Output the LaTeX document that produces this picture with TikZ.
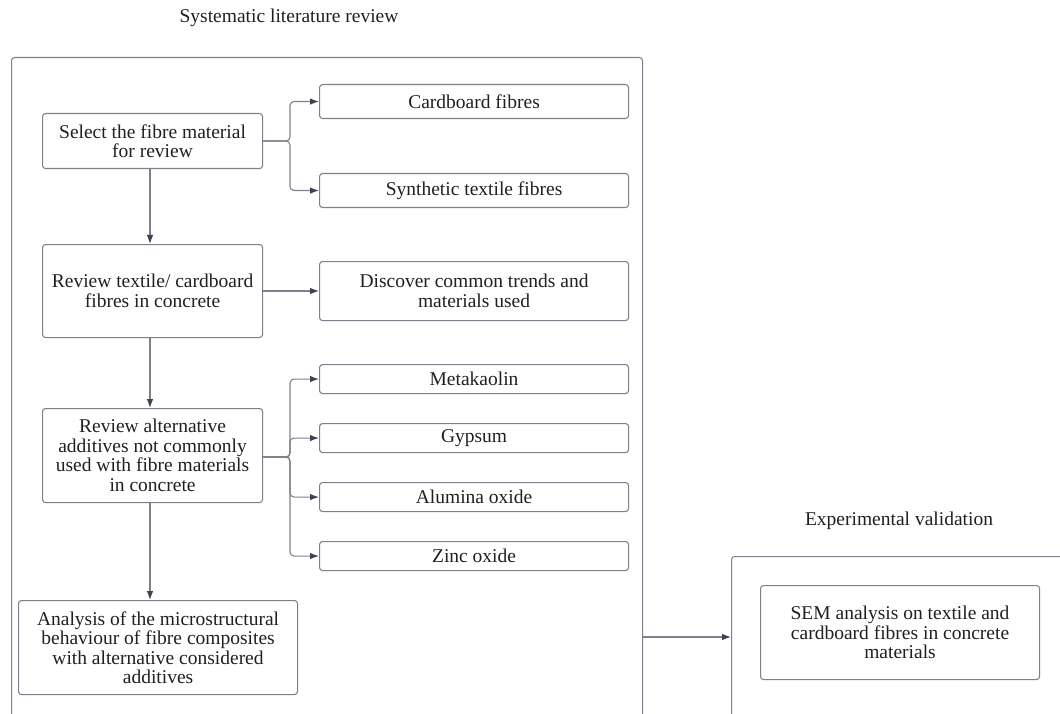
\documentclass[tikz,border=0pt]{standalone}
\usepackage{fontspec}
\setmainfont{Liberation Serif}
\usepackage{xcolor}
\usepackage{tikz}
\usetikzlibrary{positioning,arrows.meta}

\definecolor{edgegray}{HTML}{7D818B}
\definecolor{tipdark}{HTML}{3C4250}
\definecolor{inkdark}{HTML}{202020}

\begin{document}
\begin{tikzpicture}[x=1pt,y=-1pt,
  panel/.style={
   draw=edgegray,
   line width=1.1pt,
   rounded corners=3pt,
   anchor=north west
  },
  proc/.style={
    draw=edgegray,
    line width=1.1pt,
    rounded corners=3pt,
    anchor=north west,
    align=center,
    inner sep=0pt,
    text=inkdark,
    font=\fontsize{19.5}{19.5}\selectfont
  },
  heading/.style={
    text=inkdark,
    font=\fontsize{19.5}{19.5}\selectfont
  },
  arr/.style={
    draw=edgegray,
    line width=1.1pt,
    -{Latex[length=9pt,width=6.5pt,color=tipdark]}
  }]
  \clip (0,0) rectangle (1060,714);
  \useasboundingbox (0,0) rectangle (1060,714);

  \node[heading] (systitle) at (289,18) {Systematic literature review};
  \node[heading] (exptitle) at (899,521) {Experimental validation};

  \node[panel,minimum width=631pt,minimum height=700pt] (sysbox) at (11,57) {};
  \node[panel,minimum width=360pt,minimum height=200pt] (expbox) at (731,556) {};

  % main column
  \node[proc,minimum width=220pt,minimum height=55pt] (select) at (42,113)
    {Select the fibre material\\for review};
  \node[proc,minimum width=220pt,minimum height=93pt] (textile) at (42,244)
    {Review textile/ cardboard\\fibres in concrete};
  \node[proc,minimum width=220pt,minimum height=94pt] (altadd) at (42,408)
    {Review alternative\\additives not commonly\\used with fibre materials\\in concrete};
  \node[proc,minimum width=279pt,minimum height=94pt] (analysis) at (18,600)
    {Analysis of the microstructural\\behaviour of fibre composites\\with alternative considered\\additives};

  % side boxes
  \node[proc,minimum width=309pt,minimum height=34pt] (card) at (319,84) {Cardboard fibres};
  \node[proc,minimum width=309pt,minimum height=34pt] (synth) at (319,173) {Synthetic textile fibres};
  \node[proc,minimum width=309pt,minimum height=59pt] (discover) at (319,261)
    {Discover common trends and\\materials used};
  \node[proc,minimum width=309pt,minimum height=29pt] (meta) at (319,364) {Metakaolin};
  \node[proc,minimum width=309pt,minimum height=29pt] (gyps) at (319,423) {Gypsum};
  \node[proc,minimum width=309pt,minimum height=29pt] (alum) at (319,482) {Alumina oxide};
  \node[proc,minimum width=309pt,minimum height=29pt] (zinc) at (319,541) {Zinc oxide};

  \node[proc,minimum width=279pt,minimum height=94pt] (sem) at (760,585)
    {SEM analysis on textile and\\cardboard fibres in concrete\\materials};

  \coordinate (fork1) at (290,141);
  \coordinate (fork2) at (290,457);

  \draw[arr] (select.south -| 150,0) -- (textile.north -| 150,0);
  \draw[arr] (textile.south -| 150,0) -- (altadd.north -| 150,0);
  \draw[arr] (altadd.south -| 150,0) -- (analysis.north -| 150,0);

  \draw[arr,rounded corners=4pt] (select.east |- fork1) -- (fork1) |- (card.west);
  \draw[arr,rounded corners=4pt] (select.east |- fork1) -- (fork1) |- (synth.west);
  \draw[arr] (textile.east |- 0,291) -- (discover.west |- 0,291);

  \draw[arr,rounded corners=4pt] (altadd.east |- fork2) -- (fork2) |- (meta.west);
  \draw[arr,rounded corners=4pt] (altadd.east |- fork2) -- (fork2) |- (gyps.west);
  \draw[arr,rounded corners=4pt] (altadd.east |- fork2) -- (fork2) |- (alum.west);
  \draw[arr,rounded corners=4pt] (altadd.east |- fork2) -- (fork2) |- (zinc.west);

  \draw[arr] (sysbox.east |- 0,637) -- (expbox.west |- 0,637);
\end{tikzpicture}
\end{document}
